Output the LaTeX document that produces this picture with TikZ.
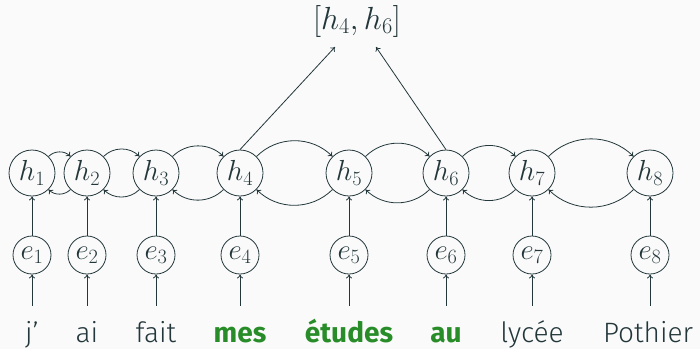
\RequirePackage{fix-cm}
\documentclass[tikz,border=0pt]{standalone}
\usepackage{fontspec}
\setmainfont{Fira Sans}
\newfontfamily\lightfont[Ligatures=TeX]{Fira Sans Light}
\usetikzlibrary{shapes.geometric,arrows.meta}
\definecolor{mteal}{HTML}{23373B}
\definecolor{mgreen}{RGB}{40,140,40}
\definecolor{mbg}{HTML}{FAFAFA}
\tikzset{
  hnode/.style={circle, draw=mteal, line width=0.8pt, minimum size=46pt, inner sep=0pt, text=mteal, font=\fontsize{29}{32}\selectfont},
  enode/.style={circle, draw=mteal, line width=0.8pt, minimum size=38pt, inner sep=0pt, text=mteal, font=\fontsize{29}{32}\selectfont},
  word/.style={text=mteal, font=\fontsize{28}{32}\selectfont\lightfont, anchor=base, text height=20pt, text depth=6pt, inner xsep=0pt, inner ysep=16pt},
  hl/.style={text=mgreen, font=\fontsize{28}{32}\selectfont\bfseries},
  conn/.style={draw=mteal, line width=0.8pt, -{To[length=4pt,width=6pt]}},
}
\begin{document}
\begin{tikzpicture}[x=1pt,y=-1pt]
\fill[mbg] (0,0) rectangle (700,349);
\useasboundingbox (0,0) rectangle (700,349);
\foreach \i/\x in {1/32,2/87,3/156,4/240,5/349,6/446,7/532,8/650}{
  \node[hnode] (h\i) at (\x,173) {$h_{\i}$};
  \node[enode] (e\i) at (\x,255) {$e_{\i}$};
}
\node[word] (w1) at (32,342) {j’};
\node[word] (w2) at (87,342) {ai};
\node[word] (w3) at (156,342) {fait};
\node[word,hl] (w4) at (240,342) {mes};
\node[word,hl] (w5) at (349,342) {études};
\node[word,hl] (w6) at (446,342) {au};
\node[word] (w7) at (532,342) {lycée};
\node[word] (w8) at (648,342) {Pothier};
\node[text=mteal, font=\fontsize{32}{35}\selectfont] (top) at (357,21) {$[h_4,h_6]$};
\coordinate (ta) at (335,47);
\coordinate (tb) at (376,47);
\foreach \i in {1,...,8}{
  \draw[conn] (w\i.north -| e\i) -- (e\i);
  \draw[conn] (e\i) -- (h\i);
}
\foreach \i/\j in {1/2,2/3,3/4,4/5,5/6,6/7,7/8}{
  \draw[conn] (h\i) to[bend left=45] (h\j);
  \draw[conn] (h\j) to[bend left=45] (h\i);
}
\draw[conn] (h4.north) -- (ta);
\draw[conn] (h6.north) -- (tb);
\end{tikzpicture}
\end{document}
